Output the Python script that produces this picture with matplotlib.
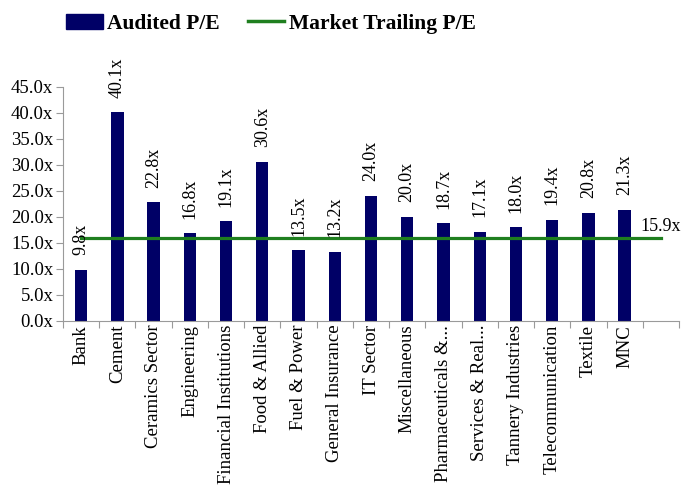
import numpy as np
import matplotlib.pyplot as plt
from matplotlib.patches import Patch
from matplotlib.lines import Line2D

sectors = ['Bank', 'Cement', 'Ceramics Sector', 'Engineering', 'Financial Institutions',
           'Food & Allied', 'Fuel & Power', 'General Insurance', 'IT Sector', 'Miscellaneous',
           'Pharmaceuticals &...', 'Services & Real...', 'Tannery Industries',
           'Telecommunication', 'Textile', 'MNC']
audited_pe = [9.8, 40.1, 22.8, 16.8, 19.1, 30.6, 13.5, 13.2, 24.0, 20.0,
              18.7, 17.1, 18.0, 19.4, 20.8, 21.3]
market_pe = 15.9
yticks = [0, 5, 10, 15, 20, 25, 30, 35, 40, 45]

plt.rcParams['font.family'] = ['Liberation Serif', 'DejaVu Serif']

navy = '#000066'
green = '#1f7f1f'
grey = '#9a9a9a'

fig = plt.figure(figsize=(6.82, 4.87), dpi=100)
ax = fig.add_axes([0.0924, 0.3415, 0.9032, 0.4805])

n_slots = len(sectors) + 1  # Excel leaves one empty slot at the end
x = np.arange(len(sectors))
ax.bar(x, audited_pe, width=0.34, color=navy, zorder=2)
ax.plot([0, n_slots - 1], [market_pe, market_pe], color=green, lw=2.3, zorder=3)

for xi, v in zip(x, audited_pe):
    ax.annotate(f'{v:.1f}x', (xi, v), xytext=(0, 10.5), textcoords='offset points',
                rotation=90, ha='center', va='bottom', fontsize=13)
ax.annotate(f'{market_pe:.1f}x', (n_slots - 1, market_pe), xytext=(0, 2),
            textcoords='offset points', ha='center', va='bottom', fontsize=13,
            annotation_clip=False)

ax.set_xlim(-0.5, n_slots - 0.5)
ax.set_ylim(0, 45)
ax.set_yticks(yticks)
ax.set_yticklabels([f'{t:.1f}x' for t in yticks], fontsize=13.5)
ax.set_xticks(np.arange(-0.5, n_slots, 1))
ax.set_xticklabels([])
ax.set_xticks(x, minor=True)
ax.set_xticklabels(sectors, minor=True, rotation=90, fontsize=13.5)
ax.tick_params(axis='x', which='minor', length=0, pad=3)
ax.tick_params(axis='x', which='major', length=5, color=grey)
ax.tick_params(axis='y', length=5, color=grey, pad=2)

for s in ['top', 'right']:
    ax.spines[s].set_visible(False)
for s in ['left', 'bottom']:
    ax.spines[s].set_color(grey)

handles = [Patch(color=navy), Line2D([0], [0], color=green, lw=2.5)]
fig.legend(handles, ['Audited P/E', 'Market Trailing P/E'], loc='center',
           bbox_to_anchor=(0.397, 0.951), ncol=2, frameon=False,
           prop={'size': 15.5, 'weight': 'bold'}, handlelength=1.7,
           handleheight=0.75, handletextpad=0.2, columnspacing=1.3)

fig.savefig('out.png', dpi=100)
